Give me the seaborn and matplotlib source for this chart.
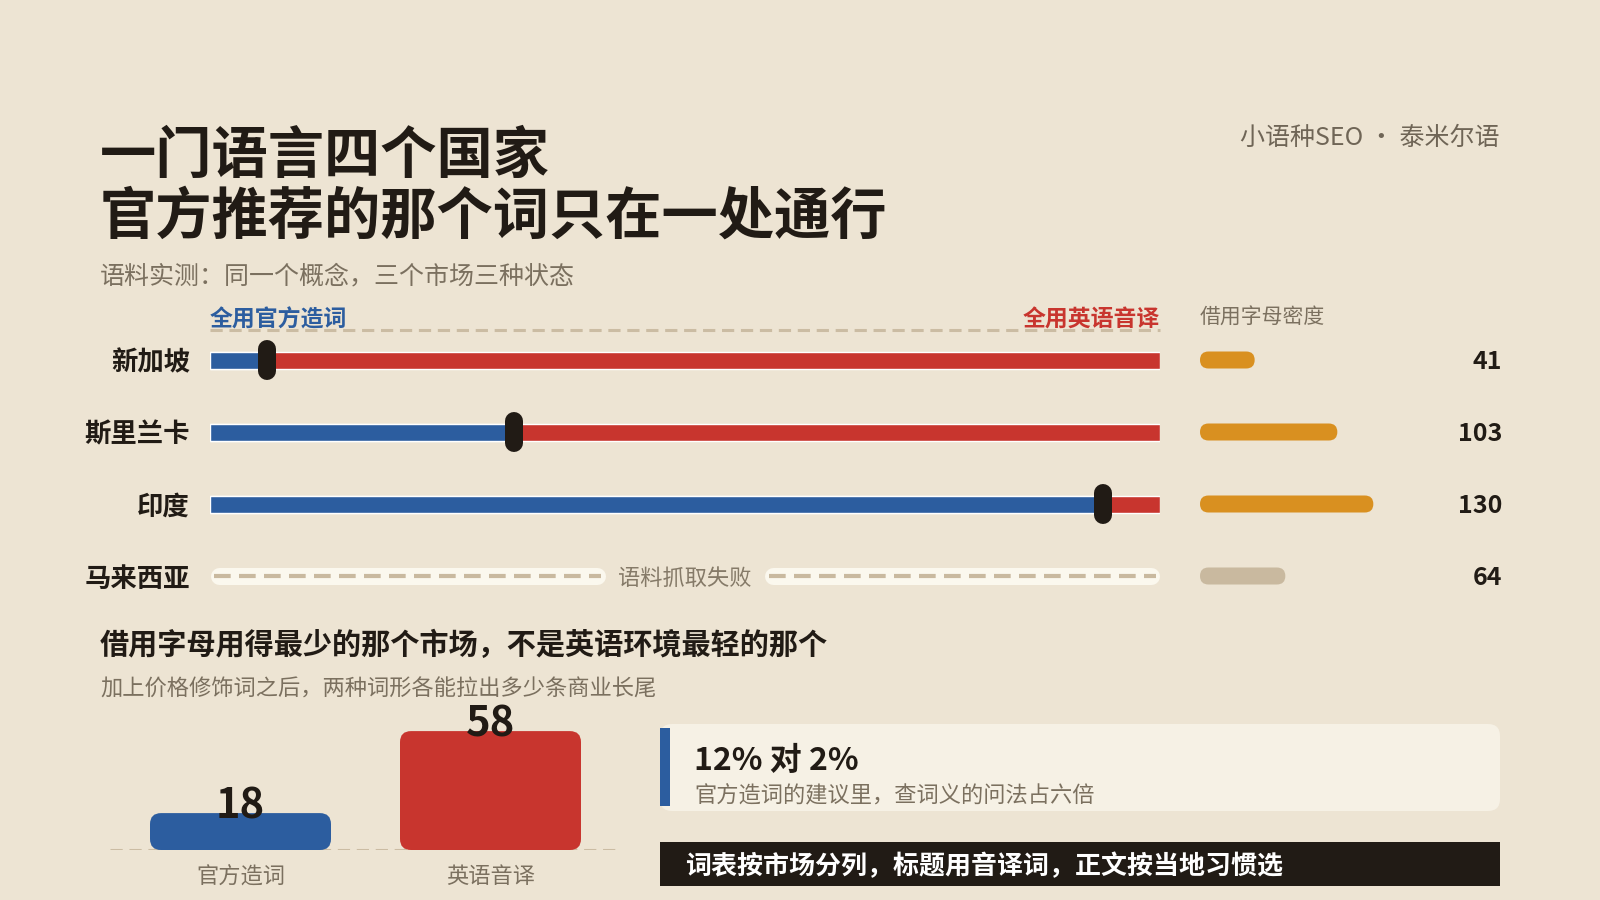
import numpy as np
import pandas as pd
import matplotlib
matplotlib.use('Agg')
import matplotlib.pyplot as plt
from matplotlib.patches import FancyBboxPatch, Rectangle
import seaborn as sns

# data
markets = ['新加坡', '斯里兰卡', '印度', '马来西亚']
official_share = [0.06, 0.32, 0.94, np.nan]   # knob position, 0 = all official, 1 = all English
letter_density = [41, 103, 130, 64]
density_ok = [True, True, True, False]
forms = ['官方造词', '英语音译']
longtail_counts = [18, 58]

BG = '#ede4d3'
BLUE = '#2c5d9f'
RED = '#c8352e'
GOLD = '#d99020'
BEIGE = '#c9b99f'
DARK = '#211b15'
GREY = '#7b705f'
CARD = '#f6f1e5'

sns.set_style('white', {'axes.facecolor': 'none', 'figure.facecolor': BG})
plt.rcParams['font.family'] = ['Noto Sans CJK SC', 'DejaVu Sans']
plt.rcParams['axes.unicode_minus'] = False

W, H = 1600, 900
fig = plt.figure(figsize=(16, 9), dpi=100)
fig.patch.set_facecolor(BG)


def rect(x0, y0, x1, y1):
    # pixel box (top-left origin) -> figure fraction
    return [x0 / W, 1 - y1 / H, (x1 - x0) / W, (y1 - y0) / H]


def round_patches(ax, r_px):
    fig.canvas.draw()
    p0 = ax.transData.transform((0, 0))
    p1 = ax.transData.transform((1, 1))
    sx, sy = abs(p1[0] - p0[0]), abs(p1[1] - p0[1])
    for p in list(ax.patches):
        x, y, w, h = p.get_x(), p.get_y(), p.get_width(), p.get_height()
        if not np.isfinite(w) or w == 0:
            continue
        fb = FancyBboxPatch((x, y), w, h,
                            boxstyle=f'round,pad=0,rounding_size={r_px / sx}',
                            mutation_aspect=sx / sy,
                            facecolor=p.get_facecolor(), edgecolor='none',
                            zorder=p.get_zorder())
        p.remove()
        ax.add_patch(fb)


def txt(x, y, s, **kw):
    fig.text(x / W, 1 - (y + 3) / H, s, **kw)


# header texts
txt(100, 153, '一门语言四个国家', fontsize=40.5, fontweight='bold', color=DARK, va='center')
txt(100, 214, '官方推荐的那个词只在一处通行', fontsize=40.5, fontweight='bold', color=DARK, va='center')
txt(100, 273, '语料实测：同一个概念，三个市场三种状态', fontsize=18, color=GREY, va='center')
txt(1500, 135, '小语种SEO · 泰米尔语', fontsize=18, color='#6f6556', va='center', ha='right')

# slider panel
df = pd.DataFrame({'market': markets, 'official': official_share, 'density': letter_density})
df['track'] = np.where(df['official'].notna(), 1.0, np.nan)
known = df.dropna(subset=['official'])

ax = fig.add_axes(rect(210, 295.2, 1160, 612))
bar_w = 17 / 72
sns.barplot(data=known, x='track', y='market', order=markets, orient='h',
            color=RED, width=bar_w, ax=ax, saturation=1, zorder=2)
sns.barplot(data=known, x='official', y='market', order=markets, orient='h',
            color=BLUE, width=bar_w, ax=ax, saturation=1, zorder=3)
ax.set_xlim(0, 1)
ax.set_ylim(3.5, -0.9)
for i, s in enumerate(official_share):
    if np.isfinite(s):
        ax.plot([s, s], [i - 0.153, i + 0.153], color=DARK, lw=18 * 0.72,
                solid_capstyle='round', zorder=5)
    else:
        for a, b in [(0.0, 0.416), (0.584, 1.0)]:
            ax.plot([a + 0.009, b - 0.009], [i, i], color='#fbf8ee', lw=17 * 0.72,
                    solid_capstyle='round', zorder=2)
            ax.plot([a + 0.004, b - 0.004], [i, i], color=BEIGE, lw=3, dashes=(4, 2),
                    zorder=3)
        ax.text(0.5, i + 0.03, '语料抓取失败', fontsize=16, color='#857a68',
                ha='center', va='center')

ax.plot([0, 1], [-0.417, -0.417], color='#cbbca3', lw=2.2, dashes=(4, 2.2), zorder=1,
        clip_on=False)
ax.text(0, -0.56, '全用官方造词', fontsize=16.5, fontweight='bold', color=BLUE,
        ha='left', va='center')
ax.text(1, -0.56, '全用英语音译', fontsize=16.5, fontweight='bold', color=RED,
        ha='right', va='center')
ax.set_yticks(range(len(markets)), markets)
ax.tick_params(axis='y', length=0, pad=14.4, labelsize=19)
for lab in ax.get_yticklabels():
    lab.set_fontweight('bold')
    lab.set_color(DARK)
ax.set_xticks([])
ax.set_xlabel('')
ax.set_ylabel('')
sns.despine(ax=ax, left=True, bottom=True)

# density column
axd = fig.add_axes(rect(1200, 295.2, 1500, 612))
dens_colors = [GOLD if ok else BEIGE for ok in density_ok]
sns.barplot(data=df, x='density', y='market', order=markets, orient='h', hue='market',
            palette=dens_colors, width=bar_w, ax=axd, saturation=1, legend=False)
axd.set_xlim(0, 225)
axd.set_ylim(3.5, -0.9)
for i, v in enumerate(letter_density):
    axd.text(226.5, i + 0.03, str(v), fontsize=18, fontweight='bold', color=DARK,
             ha='right', va='center')
axd.text(0, -0.59, '借用字母密度', fontsize=15, color=GREY, ha='left', va='center')
axd.set_xticks([])
axd.set_yticks([])
axd.set_xlabel('')
axd.set_ylabel('')
sns.despine(ax=axd, left=True, bottom=True)
round_patches(axd, 8.5)

# bottom left: long-tail counts
txt(100, 642, '借用字母用得最少的那个市场，不是英语环境最轻的那个', fontsize=21,
    fontweight='bold', color=DARK, va='center')
txt(100, 686, '加上价格修饰词之后，两种词形各能拉出多少条商业长尾', fontsize=16,
    color=GREY, va='center')

bdf = pd.DataFrame({'form': forms, 'count': longtail_counts})
axb = fig.add_axes(rect(110, 700, 620, 850))
sns.barplot(data=bdf, x='form', y='count', hue='form', palette=[BLUE, RED],
            width=0.724, ax=axb, saturation=1, legend=False, zorder=3)
axb.set_xlim(-0.522, 1.518)
axb.set_ylim(0, 150 / 2.05)
axb.axhline(0, color='#cbbca3', lw=2.2, dashes=(4, 2.2), zorder=1)
for i, v in enumerate(longtail_counts):
    axb.annotate(str(v), (i, v), xytext=(0, 4.5), textcoords='offset points',
                 ha='center', va='center', fontsize=30, fontweight='bold', color=DARK,
                 zorder=5)
axb.tick_params(axis='x', length=0, pad=11, labelsize=16, labelcolor=GREY)
axb.set_yticks([])
axb.set_xlabel('')
axb.set_ylabel('')
sns.despine(ax=axb, left=True, bottom=True)
round_patches(axb, 11)

# bottom right: card + banner
fig.add_artist(FancyBboxPatch((660 / W, 1 - 811 / H), 840 / W, 87 / H,
                              boxstyle=f'round,pad=0,rounding_size={12 / W}',
                              mutation_aspect=W / H, transform=fig.transFigure,
                              facecolor=CARD, edgecolor='none'))
fig.add_artist(Rectangle((660 / W, 1 - 806 / H), 10 / W, 78 / H,
                         transform=fig.transFigure, facecolor=BLUE, edgecolor='none'))
txt(694, 758, '12% 对 2%', fontsize=23, fontweight='bold', color=DARK, va='center')
txt(694, 793, '官方造词的建议里，查词义的问法占六倍', fontsize=16, color=GREY, va='center')

fig.add_artist(Rectangle((660 / W, 1 - 886 / H), 840 / W, 44 / H,
                         transform=fig.transFigure, facecolor=DARK, edgecolor='none'))
txt(685, 864, '词表按市场分列，标题用音译词，正文按当地习惯选', fontsize=18.7,
    fontweight='bold', color='white', va='center')

fig.savefig('out.png', dpi=100, facecolor=BG)
